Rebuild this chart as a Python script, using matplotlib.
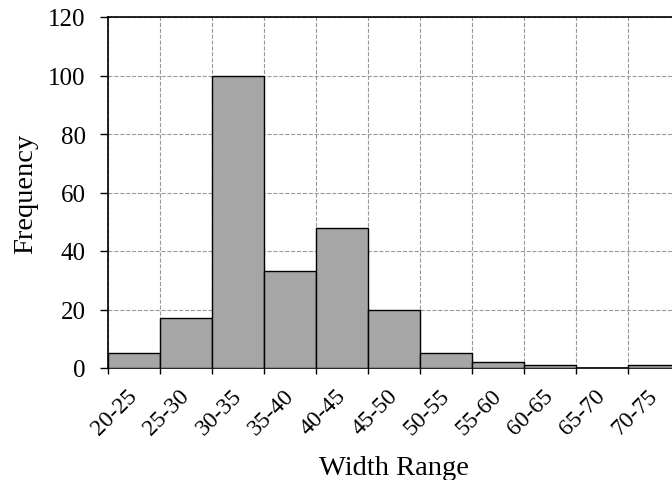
import matplotlib
matplotlib.use("Agg")
import matplotlib.pyplot as plt
import matplotlib.transforms as mtransforms
import numpy as np

# width bins and counts
ranges = ["20-25", "25-30", "30-35", "35-40", "40-45", "45-50",
          "50-55", "55-60", "60-65", "65-70", "70-75"]
counts = [5, 17, 100, 33, 48, 20, 5, 2, 1, 0, 1]

plt.rcParams['font.family'] = ['Liberation Serif', 'DejaVu Serif']

fig = plt.figure(figsize=(6.72, 4.81), dpi=100)
# axes run a bit past the right edge of the figure
ax = fig.add_axes([108 / 672, (481 - 369) / 481, (680 - 108) / 672, (369 - 18) / 481])

x = np.arange(len(ranges))
ax.bar(x, counts, width=1.0, align='edge', color='#a6a6a6',
       edgecolor='black', linewidth=1.0, zorder=3)

ax.set_xlim(0, len(ranges))
ax.set_ylim(0, 120)
ax.set_yticks(np.arange(0, 121, 20))
ax.set_xticks(x)
ax.set_xticklabels(ranges, rotation=45, ha='center', fontsize=17)
ax.tick_params(axis='y', labelsize=18, length=6, width=1, pad=10)
ax.tick_params(axis='x', length=4, width=1, pad=8)

# nudge the rotated labels to the right of their ticks
shift = mtransforms.ScaledTranslation(7 / 100, 0, fig.dpi_scale_trans)
for lbl in ax.get_xticklabels():
    lbl.set_transform(lbl.get_transform() + shift)

ax.grid(True, linestyle='--', color='#999999', linewidth=0.8, zorder=0)
ax.set_axisbelow(True)

for s in ax.spines.values():
    s.set_linewidth(1.2)

ax.set_xlabel("Width Range", fontsize=20.5, labelpad=12)
ax.set_ylabel("Frequency", fontsize=20.5, labelpad=7)

fig.savefig("out.png", dpi=100)
